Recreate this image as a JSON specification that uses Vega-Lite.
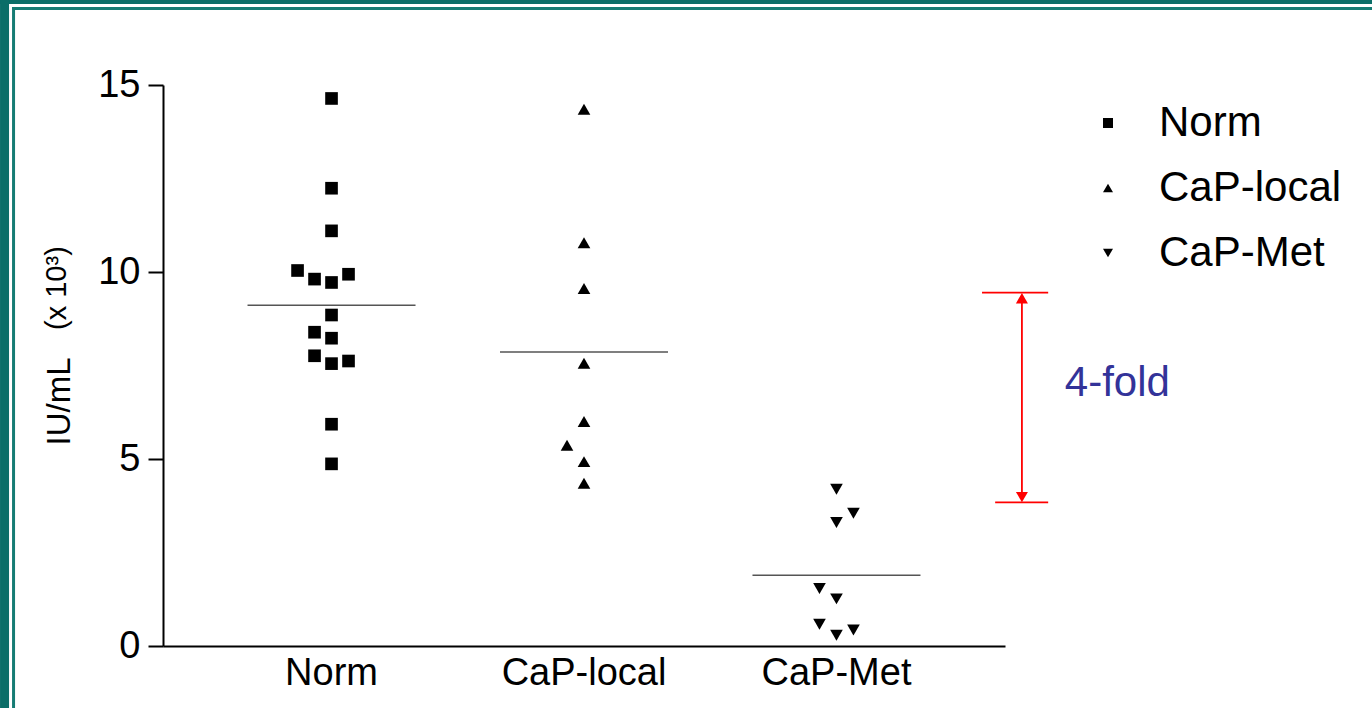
{
  "$schema": "https://vega.github.io/schema/vega-lite/v6.json",
  "width": 842,
  "height": 561,
  "autosize": {"type": "none"},
  "padding": {"left": 163, "top": 85, "right": 367, "bottom": 62},
  "background": "white",
  "config": {
    "view": {"stroke": null},
    "font": "Liberation Sans",
    "legend": {
      "orient": "none",
      "legendX": 924,
      "legendY": 17,
      "padding": 0,
      "symbolSize": 100,
      "symbolFillColor": "black",
      "symbolStrokeColor": "black",
      "labelFont": "Liberation Sans",
      "labelFontSize": 42,
      "labelColor": "black",
      "labelOffset": 30,
      "labelLimit": 0,
      "rowPadding": 23
    }
  },
  "datasets": {
    "pts": [
      {"group": "Norm", "col": 0, "value": 14.64},
      {"group": "Norm", "col": 0, "value": 12.24},
      {"group": "Norm", "col": 0, "value": 11.10},
      {"group": "Norm", "col": -2, "value": 10.04},
      {"group": "Norm", "col": -1, "value": 9.81},
      {"group": "Norm", "col": 0, "value": 9.72},
      {"group": "Norm", "col": 1, "value": 9.94},
      {"group": "Norm", "col": 0, "value": 8.85},
      {"group": "Norm", "col": -1, "value": 8.39},
      {"group": "Norm", "col": 0, "value": 8.23},
      {"group": "Norm", "col": -1, "value": 7.76},
      {"group": "Norm", "col": 0, "value": 7.55},
      {"group": "Norm", "col": 1, "value": 7.62},
      {"group": "Norm", "col": 0, "value": 5.93},
      {"group": "Norm", "col": 0, "value": 4.87},
      {"group": "CaP-local", "col": 0, "value": 14.35},
      {"group": "CaP-local", "col": 0, "value": 10.78},
      {"group": "CaP-local", "col": 0, "value": 9.56},
      {"group": "CaP-local", "col": 0, "value": 7.56},
      {"group": "CaP-local", "col": 0, "value": 6.00},
      {"group": "CaP-local", "col": -1, "value": 5.37},
      {"group": "CaP-local", "col": 0, "value": 4.93},
      {"group": "CaP-local", "col": 0, "value": 4.35},
      {"group": "CaP-Met", "col": 0, "value": 4.19},
      {"group": "CaP-Met", "col": 1, "value": 3.55},
      {"group": "CaP-Met", "col": 0, "value": 3.30},
      {"group": "CaP-Met", "col": -1, "value": 1.54},
      {"group": "CaP-Met", "col": 0, "value": 1.26},
      {"group": "CaP-Met", "col": -1, "value": 0.58},
      {"group": "CaP-Met", "col": 0, "value": 0.29},
      {"group": "CaP-Met", "col": 1, "value": 0.43}
    ]
  },
  "layer": [
    {
      "data": {"name": "pts"},
      "encoding": {
        "x": {
          "field": "group",
          "type": "nominal",
          "sort": ["Norm", "CaP-local", "CaP-Met"],
          "scale": {"type": "band", "paddingInner": 0, "paddingOuter": 0.1675},
          "axis": {
            "title": null,
            "labelAngle": 0,
            "labelFontSize": 38,
            "labelColor": "black",
            "labelPadding": 8,
            "ticks": false,
            "domainColor": "black",
            "domainWidth": 2,
            "grid": false
          }
        },
        "y": {
          "field": "value",
          "type": "quantitative",
          "scale": {"domain": [0, 15], "nice": false, "zero": true},
          "axis": {
            "values": [0, 5, 10, 15],
            "title": "IU/mL",
            "titleFontSize": 33,
            "titleFontWeight": "normal",
            "titleColor": "black",
            "titleAngle": 270,
            "titleAlign": "center",
            "titleBaseline": "middle",
            "titleX": -104,
            "titleY": 316,
            "labelFontSize": 38,
            "labelColor": "black",
            "labelPadding": 8,
            "tickSize": 15,
            "tickWidth": 2,
            "tickColor": "black",
            "domainColor": "black",
            "domainWidth": 2,
            "grid": false
          }
        }
      },
      "layer": [
        {
          "mark": {"type": "point", "filled": true, "opacity": 1, "color": "black", "size": 160},
          "encoding": {
            "xOffset": {"field": "col", "type": "quantitative", "scale": {"domain": [-7.43, 7.43], "nice": false, "zero": false}},
            "shape": {
              "field": "group",
              "type": "nominal",
              "scale": {"domain": ["Norm", "CaP-local", "CaP-Met"], "range": ["square", "triangle-up", "triangle-down"]},
              "legend": {"title": null}
            }
          }
        },
        {
          "mark": {"type": "tick", "size": 168, "thickness": 1.5, "color": "#555555"},
          "encoding": {
            "y": {"aggregate": "mean", "field": "value", "type": "quantitative"}
          }
        }
      ]
    },
    {
      "data": {"values": [{}]},
      "layer": [
        {
          "mark": {"type": "rect", "color": "#0b6e68"},
          "encoding": {
            "x": {"datum": -0.3155, "type": "quantitative", "scale": {"domain": [0.33, 3.665], "nice": false, "zero": false}, "axis": null},
            "x2": {"datum": 5.12},
            "y": {"datum": 17.273, "type": "quantitative"},
            "y2": {"datum": 17.166}
          }
        },
        {
          "mark": {"type": "rect", "color": "#167c74"},
          "encoding": {
            "x": {"datum": -0.2679, "type": "quantitative", "axis": null},
            "x2": {"datum": 5.12},
            "y": {"datum": 17.086, "type": "quantitative"},
            "y2": {"datum": 17.005}
          }
        },
        {
          "mark": {"type": "rect", "color": "#0b6e68"},
          "encoding": {
            "x": {"datum": -0.3155, "type": "quantitative", "axis": null},
            "x2": {"datum": -0.2798},
            "y": {"datum": 17.273, "type": "quantitative"},
            "y2": {"datum": -1.66}
          }
        },
        {
          "mark": {"type": "rect", "color": "#167c74"},
          "encoding": {
            "x": {"datum": -0.2679, "type": "quantitative", "axis": null},
            "x2": {"datum": -0.256},
            "y": {"datum": 17.086, "type": "quantitative"},
            "y2": {"datum": -1.66}
          }
        },
        {
          "mark": {"type": "text", "text": "(x 10³)", "angle": 270, "align": "center", "baseline": "middle", "fontSize": 29, "color": "black"},
          "encoding": {
            "x": {"datum": -0.088, "type": "quantitative", "axis": null},
            "y": {"datum": 9.57, "type": "quantitative"}
          }
        },
        {
          "mark": {"type": "rule", "color": "#ff0000", "strokeWidth": 1.8},
          "encoding": {
            "x": {"datum": 3.574, "type": "quantitative", "axis": null},
            "x2": {"datum": 3.836},
            "y": {"datum": 9.447, "type": "quantitative"}
          }
        },
        {
          "mark": {"type": "rule", "color": "#ff0000", "strokeWidth": 1.8},
          "encoding": {
            "x": {"datum": 3.626, "type": "quantitative", "axis": null},
            "x2": {"datum": 3.836},
            "y": {"datum": 3.842, "type": "quantitative"}
          }
        },
        {
          "mark": {"type": "rule", "color": "#ff0000", "strokeWidth": 1.8},
          "encoding": {
            "x": {"datum": 3.732, "type": "quantitative", "axis": null},
            "y": {"datum": 9.3, "type": "quantitative"},
            "y2": {"datum": 3.98}
          }
        },
        {
          "mark": {"type": "point", "shape": "triangle-up", "filled": true, "opacity": 1, "color": "#ff0000", "size": 144},
          "encoding": {
            "x": {"datum": 3.732, "type": "quantitative", "axis": null},
            "y": {"datum": 9.3, "type": "quantitative"}
          }
        },
        {
          "mark": {"type": "point", "shape": "triangle-down", "filled": true, "opacity": 1, "color": "#ff0000", "size": 144},
          "encoding": {
            "x": {"datum": 3.732, "type": "quantitative", "axis": null},
            "y": {"datum": 3.98, "type": "quantitative"}
          }
        },
        {
          "mark": {"type": "text", "text": "4-fold", "align": "left", "baseline": "middle", "fontSize": 42, "color": "#333399"},
          "encoding": {
            "x": {"datum": 3.902, "type": "quantitative", "axis": null},
            "y": {"datum": 7.03, "type": "quantitative"}
          }
        }
      ]
    }
  ],
  "resolve": {"scale": {"x": "independent"}}
}
